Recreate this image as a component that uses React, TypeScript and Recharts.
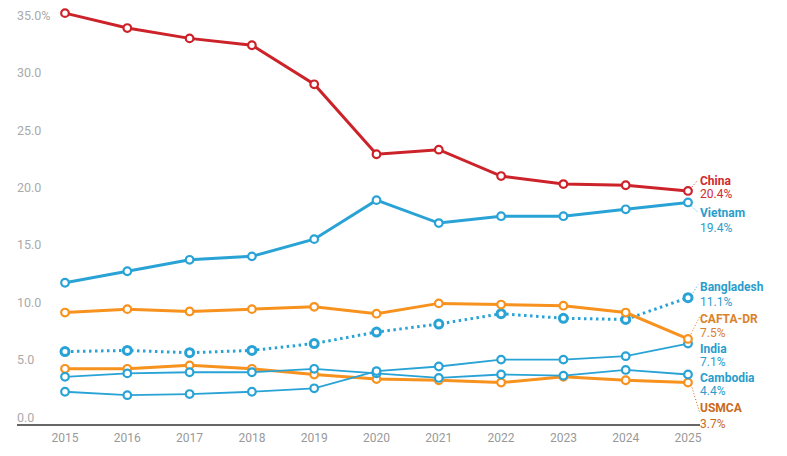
import { LineChart, Line, XAxis, YAxis, LabelList } from 'recharts';

const YEARS = ['2015', '2016', '2017', '2018', '2019', '2020', '2021', '2022', '2023', '2024', '2025'];

const CHINA = [35.9, 34.6, 33.7, 33.1, 29.7, 23.6, 24.0, 21.7, 21.0, 20.9, 20.4];
const VIETNAM = [12.4, 13.4, 14.4, 14.7, 16.2, 19.6, 17.6, 18.2, 18.2, 18.8, 19.4];
const CAFTA_DR = [9.8, 10.1, 9.9, 10.1, 10.3, 9.7, 10.6, 10.5, 10.4, 9.8, 7.5];
const BANGLADESH = [6.4, 6.5, 6.3, 6.5, 7.1, 8.1, 8.8, 9.7, 9.3, 9.2, 11.1];
const INDIA = [2.9, 2.6, 2.7, 2.9, 3.2, 4.7, 5.1, 5.7, 5.7, 6.0, 7.1];
const CAMBODIA = [4.2, 4.5, 4.6, 4.6, 4.9, 4.5, 4.1, 4.4, 4.3, 4.8, 4.4];
const USMCA = [4.9, 4.9, 5.2, 4.9, 4.4, 4.0, 3.9, 3.7, 4.2, 3.9, 3.7];

const Y_TICKS = [0, 5, 10, 15, 20, 25, 30, 35];

const DATA = YEARS.map((year, i) => ({
  year,
  China: CHINA[i],
  Vietnam: VIETNAM[i],
  'CAFTA-DR': CAFTA_DR[i],
  Bangladesh: BANGLADESH[i],
  India: INDIA[i],
  Cambodia: CAMBODIA[i],
  USMCA: USMCA[i],
}));

const RED = '#cc2229';
const BLUE = '#29a3d5';
const ORANGE = '#f7921e';

// drawn bottom to top
const SERIES = [
  { key: 'USMCA', color: ORANGE, text: '#c96a1c', width: 3, nameDy: 25, valueDy: 41, leader: [4, 5, 12, 31] },
  { key: 'Cambodia', color: BLUE, text: '#2a9dcc', width: 1.8, nameDy: 3, valueDy: 16, leader: null },
  { key: 'India', color: BLUE, text: '#2a9dcc', width: 1.8, nameDy: 5, valueDy: 18, leader: null },
  { key: 'Bangladesh', color: BLUE, text: '#2a9dcc', width: 3, dash: '2.5 3.5', nameDy: -11, valueDy: 4, leader: [5, -5, 10, -13] },
  { key: 'CAFTA-DR', color: ORANGE, text: '#d9822b', width: 3, nameDy: -20, valueDy: -6, leader: [3, -5, 12, -23] },
  { key: 'Vietnam', color: BLUE, text: '#2a9dcc', width: 3, nameDy: 11, valueDy: 26, leader: [4, 4, 9, 9] },
  { key: 'China', color: RED, text: '#d12a2f', width: 3, nameDy: -10, valueDy: 3, leader: [4, -4, 9, -10] },
];

const FONT = 'Roboto, sans-serif';

function YTick({ y, payload }: any) {
  const v = payload.value as number;
  return (
    <text x={17} y={y - 8} fill="#aaa" fontSize={12.5} fontFamily={FONT} dominantBaseline="central">
      {v === 35 ? '35.0%' : v.toFixed(1)}
    </text>
  );
}

function endLabel(s: typeof SERIES[number]) {
  return (props: any) => {
    const { x, y, index, value } = props;
    if (index !== YEARS.length - 1) return null;
    const tx = x + 12;
    return (
      <g>
        {s.leader && (
          <line
            x1={x + s.leader[0]} y1={y + s.leader[1]} x2={x + s.leader[2]} y2={y + s.leader[3]}
            stroke={s.text} strokeWidth={1} strokeDasharray="1 2"
          />
        )}
        <text x={tx} y={y + s.nameDy} fill={s.text} fontSize={12} fontWeight={700} fontFamily={FONT} dominantBaseline="central">
          {s.key}
        </text>
        <text x={tx} y={y + s.valueDy} fill={s.text} fontSize={12} fontFamily={FONT} dominantBaseline="central">
          {Number(value).toFixed(1)}%
        </text>
      </g>
    );
  };
}

export default function App() {
  return (
    <div style={{ position: 'absolute', left: 0, top: 0, width: 787, height: 456, background: '#fff', fontFamily: FONT }}>
      <LineChart width={787} height={456} data={DATA} margin={{ top: 12, right: 87, bottom: 0, left: 0 }}>
        <XAxis
          dataKey="year"
          height={31}
          padding={{ left: 48, right: 12 }}
          axisLine={{ stroke: '#333', strokeWidth: 1.5 }}
          tickLine={false}
          tick={{ fontSize: 12, fill: '#999', fontFamily: FONT }}
          interval={0}
        />
        <YAxis
          width={17}
          domain={[0, 36]}
          ticks={Y_TICKS}
          axisLine={false}
          tickLine={false}
          tick={<YTick />}
        />
        {SERIES.map(s => (
          <Line
            key={s.key}
            dataKey={s.key}
            stroke={s.color}
            strokeWidth={s.width}
            strokeDasharray={s.dash}
            dot={{
              r: s.key === 'Bangladesh' ? 4 : 3.8,
              fill: '#fff',
              stroke: s.color,
              strokeWidth: s.key === 'Bangladesh' ? 3 : 2.2,
              strokeDasharray: '0',
            }}
            activeDot={false}
            isAnimationActive={false}
          >
            <LabelList dataKey={s.key} content={endLabel(s)} />
          </Line>
        ))}
      </LineChart>
    </div>
  );
}
